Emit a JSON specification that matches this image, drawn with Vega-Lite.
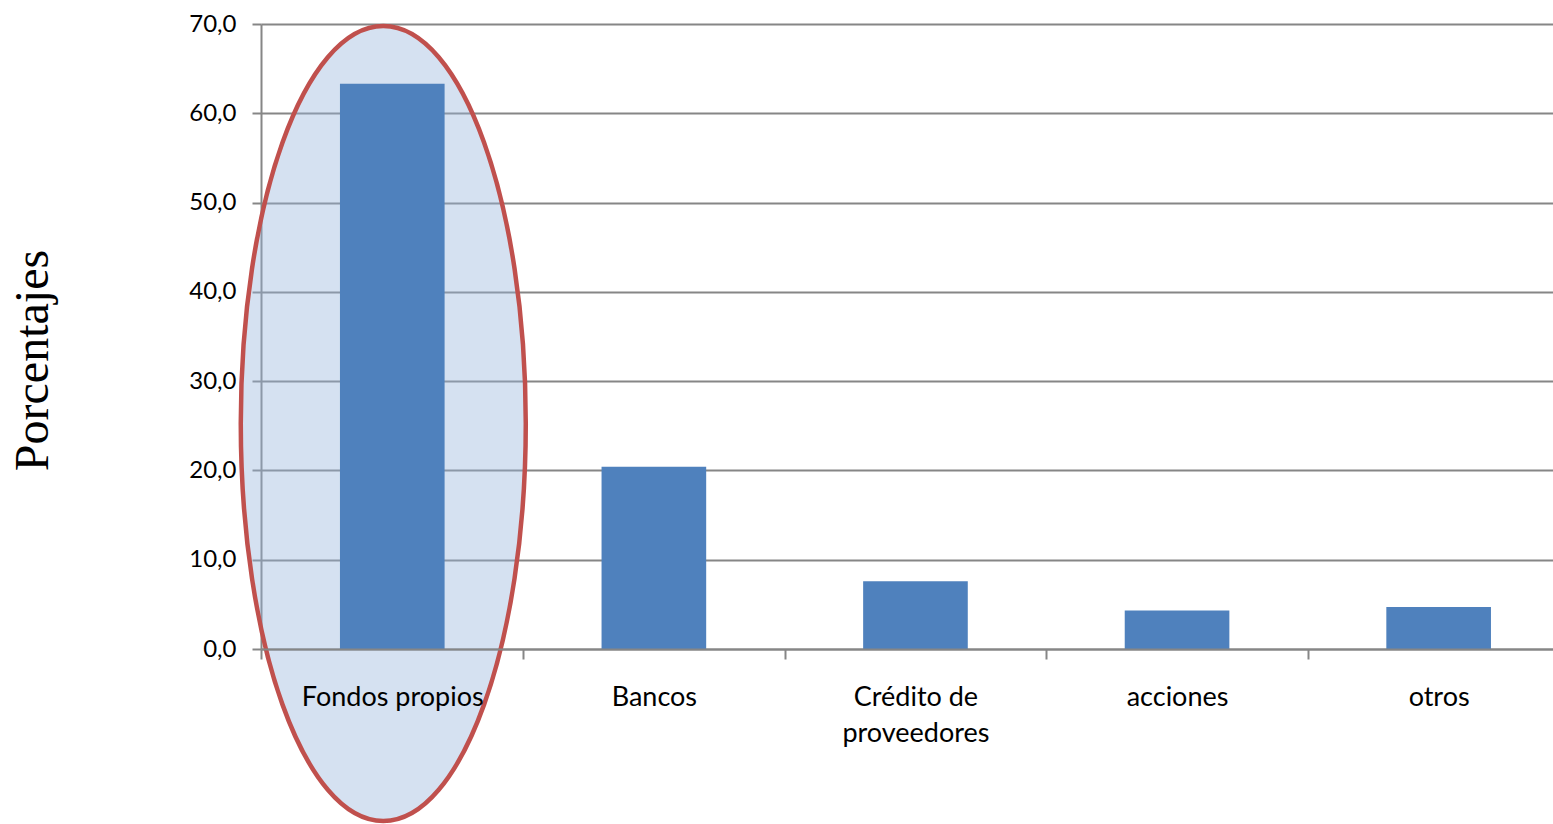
{
  "$schema": "https://vega.github.io/schema/vega-lite/v6.json",
  "autosize": {"type": "none"},
  "width": 1292,
  "height": 625,
  "padding": {"left": 261, "top": 24, "right": 0, "bottom": 175},
  "background": "white",
  "config": {"view": {"stroke": null}},
  "data": {"values": [
    {"fuente": "Fondos propios", "porcentaje": 63.3},
    {"fuente": "Bancos", "porcentaje": 20.4},
    {"fuente": "Crédito de proveedores", "porcentaje": 7.6},
    {"fuente": "acciones", "porcentaje": 4.3},
    {"fuente": "otros", "porcentaje": 4.7}
  ]},
  "encoding": {
    "x": {
      "field": "fuente", "type": "nominal", "sort": null,
      "scale": {"paddingInner": 0.6, "paddingOuter": 0.2695, "align": 0.56},
      "axis": {
        "title": null, "labelAngle": 0, "zindex": 1,
        "bandPosition": 0, "tickOffset": -78.5, "labelOffset": 78.5,
        "labelFont": "Lato", "labelFontSize": 27, "labelColor": "#000000",
        "labelPadding": 25, "labelLineHeight": 36, "labelLimit": 0,
        "labelExpr": "datum.value == 'Crédito de proveedores' ? ['Crédito de', 'proveedores'] : datum.value",
        "domainColor": "#868686", "domainWidth": 2,
        "tickColor": "#868686", "tickWidth": 2, "tickSize": 10,
        "grid": false
      }
    },
    "y": {
      "field": "porcentaje", "type": "quantitative",
      "scale": {"domain": [0, 70], "nice": false},
      "axis": {
        "title": "Porcentajes", "titleFont": "Liberation Serif", "titleFontSize": 48,
        "titleFontWeight": "normal", "titleColor": "#000000",
        "titleAngle": -90, "titleBaseline": "alphabetic", "titleX": -214, "titleY": 336,
        "values": [0, 10, 20, 30, 40, 50, 60, 70],
        "labelExpr": "replace(format(datum.value, '.1f'), '.', ',')",
        "labelFont": "Lato", "labelFontSize": 24, "labelColor": "#000000", "labelPadding": 16,
        "domainColor": "#868686", "domainWidth": 2,
        "tickColor": "#868686", "tickWidth": 2, "tickSize": 9,
        "grid": true, "gridColor": "#868686", "gridWidth": 2
      }
    }
  },
  "layer": [
    {
      "transform": [{"filter": "datum.fuente == 'Fondos propios'"}],
      "mark": {
        "type": "point", "filled": true,
        "shape": "M -0.3585 0 A 0.3585 1 0 1 0 0.3585 0 A 0.3585 1 0 1 0 -0.3585 0 Z",
        "size": 632025, "xOffset": -9,
        "fill": "#96b4dc", "fillOpacity": 0.4, "opacity": 1,
        "stroke": "#C0504D", "strokeWidth": 4.5, "strokeOpacity": 1
      },
      "encoding": {
        "y": {"datum": 25.25}
      }
    },
    {
      "mark": {"type": "bar", "color": "#4F81BD"}
    }
  ]
}
